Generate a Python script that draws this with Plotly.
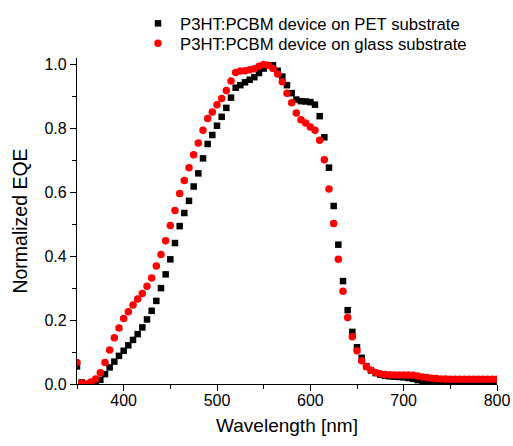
import plotly.graph_objects as go

wavelength = list(range(350, 805, 5))

eqe_pet = [
    0.055, 0.005, 0.000, 0.000, 0.003, 0.013, 0.031, 0.052, 0.070, 0.088,
    0.104, 0.121, 0.138, 0.156, 0.177, 0.202, 0.229, 0.260, 0.300, 0.343,
    0.390, 0.441, 0.494, 0.535, 0.573, 0.618, 0.659, 0.706, 0.751, 0.779,
    0.808, 0.836, 0.864, 0.896, 0.927, 0.935, 0.944, 0.952, 0.960, 0.973,
    0.987, 0.997, 0.997, 0.980, 0.962, 0.935, 0.910, 0.890, 0.885, 0.884,
    0.882, 0.874, 0.838, 0.772, 0.677, 0.557, 0.436, 0.322, 0.231, 0.163,
    0.115, 0.082, 0.056, 0.042, 0.034, 0.029, 0.026, 0.024, 0.023, 0.022,
    0.021, 0.019, 0.016, 0.012, 0.008, 0.004, 0.002, 0.002, 0.001, 0.001,
    0.001, 0.001, 0.001, 0.001, 0.001, 0.001, 0.001, 0.001, 0.001, 0.001,
    0.001,
]

eqe_glass = [
    0.067, 0.003, 0.000, 0.006, 0.016, 0.035, 0.067, 0.106, 0.145, 0.175,
    0.205, 0.226, 0.247, 0.266, 0.283, 0.306, 0.332, 0.369, 0.405, 0.448,
    0.496, 0.543, 0.596, 0.637, 0.677, 0.717, 0.754, 0.794, 0.831, 0.851,
    0.874, 0.893, 0.918, 0.948, 0.975, 0.979, 0.980, 0.983, 0.986, 0.994,
    1.000, 0.997, 0.987, 0.970, 0.946, 0.910, 0.880, 0.848, 0.827, 0.817,
    0.804, 0.794, 0.763, 0.702, 0.610, 0.502, 0.390, 0.290, 0.208, 0.148,
    0.104, 0.073, 0.054, 0.043, 0.036, 0.032, 0.030, 0.029, 0.028, 0.028,
    0.028, 0.028, 0.027, 0.025, 0.022, 0.020, 0.018, 0.017, 0.016, 0.016,
    0.015, 0.015, 0.015, 0.015, 0.015, 0.015, 0.015, 0.015, 0.015, 0.015,
    0.015,
]

x_ticks = [400, 500, 600, 700, 800]
y_ticks = [0.0, 0.2, 0.4, 0.6, 0.8, 1.0]

FONT = "Liberation Sans, Arial, sans-serif"

fig = go.Figure()
fig.add_trace(go.Scatter(
    x=wavelength, y=eqe_pet, mode="markers",
    name="P3HT:PCBM device on PET substrate", legend="legend",
    marker=dict(symbol="square", size=6.5, color="#000000", line=dict(width=0)),
))
fig.add_trace(go.Scatter(
    x=wavelength, y=eqe_glass, mode="markers",
    name="P3HT:PCBM device on glass substrate", legend="legend2",
    marker=dict(symbol="circle", size=7.5, color="#ff0000", line=dict(width=0)),
))

axis_common = dict(
    showline=True, linecolor="#000000", linewidth=1.3,
    ticks="outside", ticklen=6, tickwidth=1.3, tickcolor="#000000",
    showgrid=False, zeroline=False, mirror=False,
    tickfont=dict(family=FONT, size=16, color="#000000"),
)

fig.update_xaxes(
    range=[350, 800], tickvals=x_ticks, ticklabelstandoff=-4,
    title=dict(text="Wavelength [nm]", font=dict(family=FONT, size=19, color="#000000"), standoff=10),
    minor=dict(ticks="outside", ticklen=4, tickwidth=1.3, tickcolor="#000000", dtick=50, tick0=350, showgrid=False),
    **axis_common,
)
fig.update_yaxes(
    range=[0, 1.02], tickvals=y_ticks, tickformat=".1f",
    title=dict(text="Normalized EQE", font=dict(family=FONT, size=19.5, color="#000000"), standoff=11),
    minor=dict(ticks="outside", ticklen=4, tickwidth=1.3, tickcolor="#000000", dtick=0.1, tick0=0, showgrid=False),
    **axis_common,
)

legend_common = dict(
    xanchor="left", yanchor="middle",
    font=dict(family=FONT, size=16.7, color="#000000"),
    bgcolor="rgba(0,0,0,0)", itemwidth=34, borderwidth=0,
)

fig.update_layout(
    width=513, height=446,
    margin=dict(l=77, r=16, t=58, b=62, autoexpand=False),
    paper_bgcolor="#ffffff", plot_bgcolor="#ffffff",
    font=dict(family=FONT, color="#000000"),
    showlegend=True,
    legend=dict(x=(136 - 77) / 420, y=(384 - 23.5) / 326, **legend_common),
    legend2=dict(x=(136 - 77) / 420, y=(384 - 43.5) / 326, **legend_common),
)

fig.write_html("out.html")
